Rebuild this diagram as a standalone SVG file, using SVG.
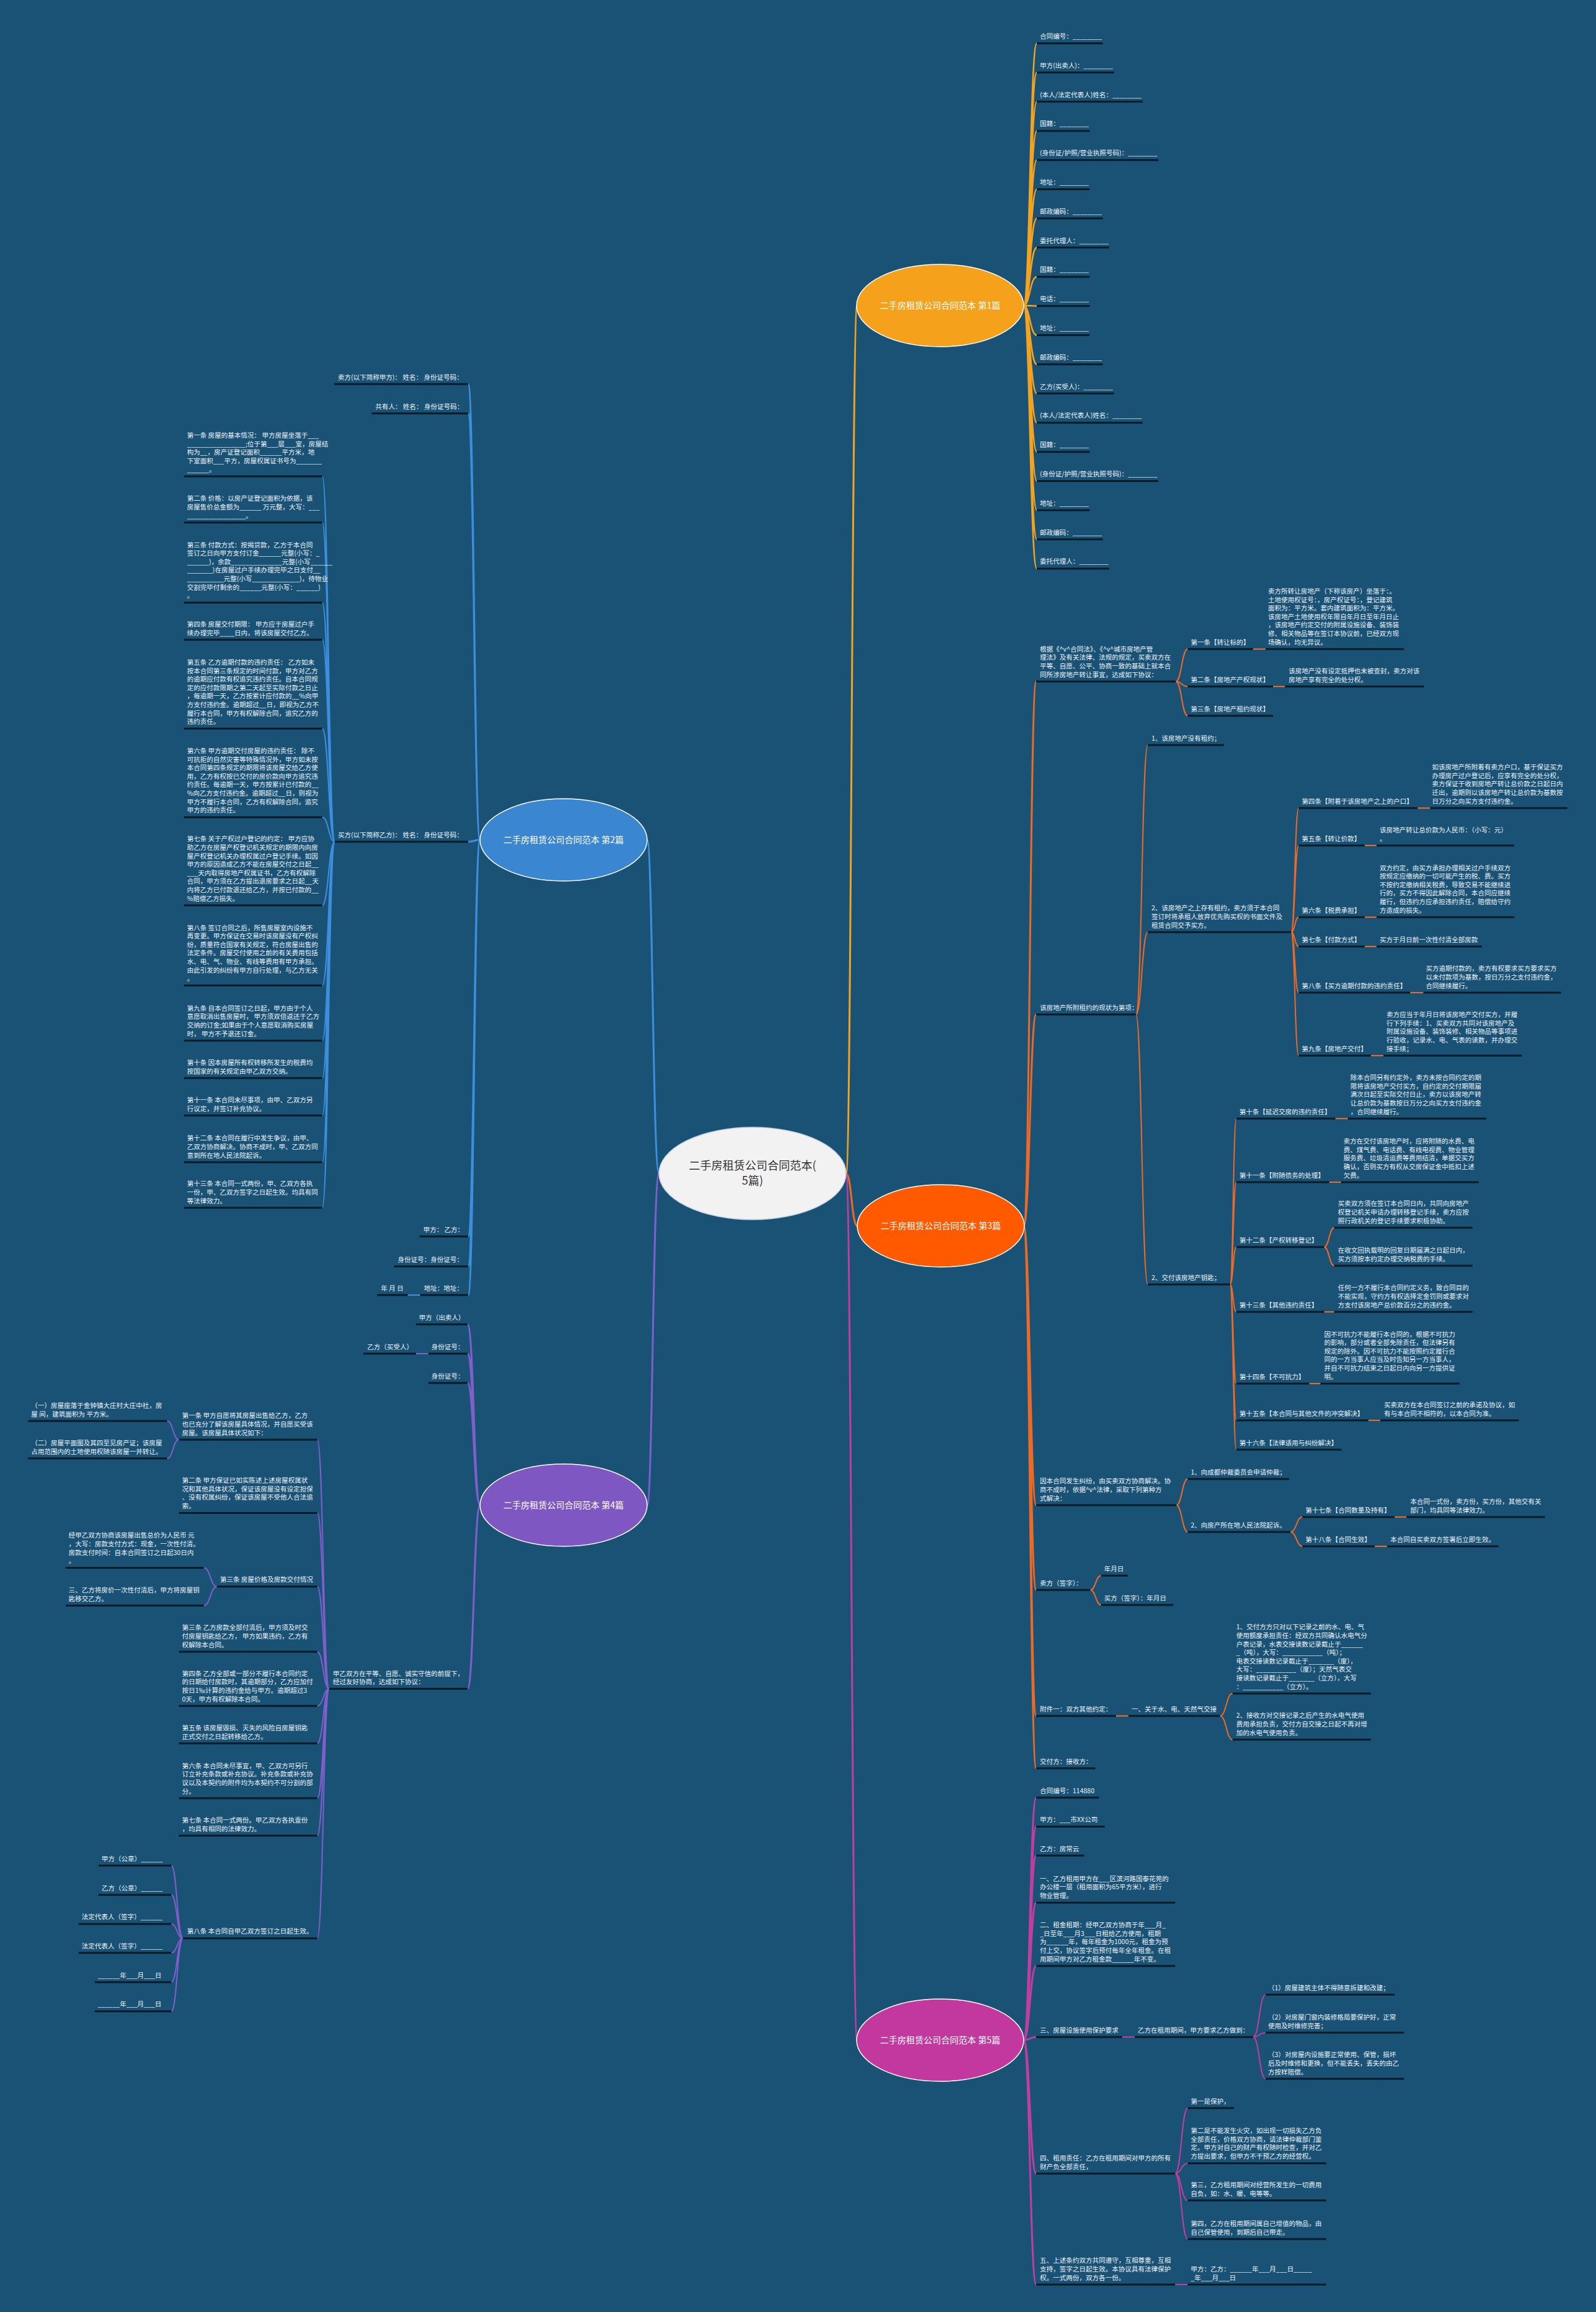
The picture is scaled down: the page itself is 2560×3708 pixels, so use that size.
<svg xmlns="http://www.w3.org/2000/svg" width="2560" height="3708" viewBox="0 0 2560 3708">
<style>
text{font-family:"Noto Sans CJK SC","Noto Sans",sans-serif;font-size:10.5px;fill:#eef2f6}
.u{stroke:#0b1a27;stroke-width:3;fill:none}
.cy{stroke:#f4a321;fill:none;stroke-width:2.5}
.co{stroke:#ec6a26;fill:none;stroke-width:2}
.cm{stroke:#c13d9f;fill:none;stroke-width:2}
.cb{stroke:#3d8fde;fill:none;stroke-width:2}
.cp{stroke:#7f5fcc;fill:none;stroke-width:2}
.w{stroke-width:3}
.big{font-size:14px;fill:#fff}
.rt{font-size:18px;fill:#333}
</style>
<rect x="0" y="0" width="2560" height="3708" fill="#1a5276"/>

<g id="connectors">
<path class="cy w" d="M1357 1882C1366 1882 1366 490 1375 490"/>
<path class="co w" d="M1357 1882C1366 1882 1366 1966 1375 1966"/>
<path class="cm w" d="M1357 1882C1366 1882 1366 3272 1375 3272"/>
<path class="cb w" d="M1057 1882C1047 1882 1047 1347 1038 1347"/>
<path class="cp w" d="M1057 1882C1047 1882 1047 2414 1038 2414"/>
<path class="cy" d="M1642 490C1652 490 1652 69.5 1663 69.5M1642 490C1652 490 1652 116.3 1663 116.3M1642 490C1652 490 1652 163.1 1663 163.1M1642 490C1652 490 1652 209.9 1663 209.9M1642 490C1652 490 1652 256.7 1663 256.7M1642 490C1652 490 1652 303.5 1663 303.5M1642 490C1652 490 1652 350.3 1663 350.3M1642 490C1652 490 1652 397.1 1663 397.1M1642 490C1652 490 1652 443.9 1663 443.9M1642 490C1652 490 1652 490.7 1663 490.7M1642 490C1652 490 1652 537.5 1663 537.5M1642 490C1652 490 1652 584.3 1663 584.3M1642 490C1652 490 1652 631.1 1663 631.1M1642 490C1652 490 1652 677.9 1663 677.9M1642 490C1652 490 1652 724.7 1663 724.7M1642 490C1652 490 1652 771.5 1663 771.5M1642 490C1652 490 1652 818.3 1663 818.3M1642 490C1652 490 1652 865.1 1663 865.1M1642 490C1652 490 1652 911.9 1663 911.9"/>
<path class="co w" d="M1642 1966C1652 1966 1652 1093 1662 1093M1642 1966C1652 1966 1652 1627 1662 1627M1642 1966C1652 1966 1652 2414 1662 2414M1642 1966C1652 1966 1652 2550 1662 2550M1642 1966C1652 1966 1652 2752 1662 2752M1642 1966C1652 1966 1652 2836 1662 2836"/>
<path class="co" d="M1886 1093C1895.5 1093 1895.5 1041 1905 1041M1886 1093C1895.5 1093 1895.5 1101 1905 1101M1886 1093C1895.5 1093 1895.5 1148 1905 1148M2010 1041H2030M2042 1101H2061"/>
<path class="co" d="M1822 1627C1831.5 1627 1831.5 1195 1841 1195M1822 1627C1831.5 1627 1831.5 1495 1841 1495M1822 1627C1831.5 1627 1831.5 2060 1841 2060"/>
<path class="co" d="M2071 1495C2077 1495 2077 1296 2083 1296M2071 1495C2077 1495 2077 1356 2083 1356M2071 1495C2077 1495 2077 1471 2083 1471M2071 1495C2077 1495 2077 1518 2083 1518M2071 1495C2077 1495 2077 1592 2083 1592M2071 1495C2077 1495 2077 1693 2083 1693M2274 1296H2294M2189 1356H2208M2189 1471H2208M2189 1518H2208M2262 1592H2283M2199 1693H2219"/>
<path class="co" d="M1973 2060C1978 2060 1978 1794 1983 1794M1973 2060C1978 2060 1978 1896 1983 1896M1973 2060C1978 2060 1978 2000 1983 2000M1973 2060C1978 2060 1978 2104 1983 2104M1973 2060C1978 2060 1978 2219 1983 2219M1973 2060C1978 2060 1978 2278 1983 2278M1973 2060C1978 2060 1978 2325 1983 2325M2142 1794H2162M2132 1896H2151M2124 2104H2140M2100 2219H2118M2195 2278H2214M2124 2000C2132 2000 2132 1969 2140 1969M2124 2000C2132 2000 2132 2030 2140 2030"/>
<path class="co" d="M1887 2414C1896 2414 1896 2372 1905 2372M1887 2414C1896 2414 1896 2457 1905 2457M2070 2457C2079.5 2457 2079.5 2433 2089 2433M2070 2457C2079.5 2457 2079.5 2480 2089 2480M2237 2433H2256M2205 2480H2225"/>
<path class="co" d="M1749 2550C1757.5 2550 1757.5 2527 1766 2527M1749 2550C1757.5 2550 1757.5 2574 1766 2574M1790 2752H1810M1957 2752C1967 2752 1967 2716 1977 2716M1957 2752C1967 2752 1967 2790 1977 2790"/>
<path class="cm w" d="M1642 3272C1652 3272 1652 2883 1662 2883M1642 3272C1652 3272 1652 2929.5 1662 2929.5M1642 3272C1652 3272 1652 2976 1662 2976M1642 3272C1652 3272 1652 3051.5 1662 3051.5M1642 3272C1652 3272 1652 3153 1662 3153M1642 3272C1652 3272 1652 3267 1662 3267M1642 3272C1652 3272 1652 3486 1662 3486M1642 3272C1652 3272 1652 3664 1662 3664"/>
<path class="cm" d="M1800 3267H1820M1885 3664H1905M2010 3267C2020 3267 2020 3199 2030 3199M2010 3267C2020 3267 2020 3260 2030 3260M2010 3267C2020 3267 2020 3334 2030 3334M1885 3486C1895 3486 1895 3381 1905 3381M1885 3486C1895 3486 1895 3469.5 1905 3469.5M1885 3486C1895 3486 1895 3529 1905 3529M1885 3486C1895 3486 1895 3591 1905 3591"/>
<path class="cb w" d="M770 1347C760.5 1347 760.5 616 751 616M770 1347C760.5 1347 760.5 663 751 663M770 1347C760.5 1347 760.5 1350 751 1350M770 1347C760.5 1347 760.5 1983 751 1983M770 1347C760.5 1347 760.5 2031 751 2031M770 1347C760.5 1347 760.5 2077 751 2077"/>
<path class="cb" d="M537 1350C527 1350 527 764 517 764M537 1350C527 1350 527 838 517 838M537 1350C527 1350 527 966.6 517 966.6M537 1350C527 1350 527 1026 517 1026M537 1350C527 1350 527 1168.6 517 1168.6M537 1350C527 1350 527 1310.7 517 1310.7M537 1350C527 1350 527 1452 517 1452M537 1350C527 1350 527 1580.6 517 1580.6M537 1350C527 1350 527 1669 517 1669M537 1350C527 1350 527 1729 517 1729M537 1350C527 1350 527 1789 517 1789M537 1350C527 1350 527 1864 517 1864M537 1350C527 1350 527 1937 517 1937M674 2077H654"/>
<path class="cp w" d="M770 2414C760 2414 760 2124 750 2124M770 2414C760 2414 760 2171 750 2171M770 2414C760 2414 760 2218 750 2218M770 2414C760 2414 760 2708.6 750 2708.6"/>
<path class="cp" d="M687 2171H667M528 2708.6C518.5 2708.6 518.5 2309 509 2309M528 2708.6C518.5 2708.6 518.5 2426.4 509 2426.4M528 2708.6C518.5 2708.6 518.5 2544.6 509 2544.6M528 2708.6C518.5 2708.6 518.5 2649 509 2649M528 2708.6C518.5 2708.6 518.5 2736 509 2736M528 2708.6C518.5 2708.6 518.5 2796 509 2796M528 2708.6C518.5 2708.6 518.5 2884 509 2884M528 2708.6C518.5 2708.6 518.5 2944 509 2944M528 2708.6C518.5 2708.6 518.5 3108.7 509 3108.7"/>
<path class="cp" d="M287 2309C277.5 2309 277.5 2279 268 2279M287 2309C277.5 2309 277.5 2339 268 2339M348 2544.6C337.5 2544.6 337.5 2514.6 327 2514.6M348 2544.6C337.5 2544.6 337.5 2575 327 2575M293.5 3108.7C284 3108.7 284 2992 275 2992M293.5 3108.7C284 3108.7 284 3039 275 3039M293.5 3108.7C284 3108.7 284 3085.7 275 3085.7M293.5 3108.7C284 3108.7 284 3132 275 3132M293.5 3108.7C284 3108.7 284 3179 275 3179M293.5 3108.7C284 3108.7 284 3225.7 275 3225.7"/>
</g>

<g id="root"><ellipse cx="1207" cy="1882" rx="150" ry="74" fill="#f2f2f2" stroke="#c9d6e2" stroke-width="1.5"/><text class="rt" x="1207" y="1876" text-anchor="middle">二手房租赁公司合同范本(</text><text class="rt" x="1207" y="1900" text-anchor="middle">5篇)</text></g>
<g id="n1"><ellipse cx="1508" cy="490" rx="134" ry="66" fill="#f5a11c" stroke="#fff" stroke-width="1.5"/><text class="big" x="1508" y="495" text-anchor="middle">二手房租赁公司合同范本 第1篇</text></g>
<g id="n2"><ellipse cx="904" cy="1347" rx="134" ry="66" fill="#3a86d0" stroke="#fff" stroke-width="1.5"/><text class="big" x="904" y="1352" text-anchor="middle">二手房租赁公司合同范本 第2篇</text></g>
<g id="n3"><ellipse cx="1509" cy="1966" rx="134" ry="66" fill="#ff5a00" stroke="#fff" stroke-width="1.5"/><text class="big" x="1509" y="1971" text-anchor="middle">二手房租赁公司合同范本 第3篇</text></g>
<g id="n4"><ellipse cx="904" cy="2414" rx="134" ry="66" fill="#7e57c2" stroke="#fff" stroke-width="1.5"/><text class="big" x="904" y="2419" text-anchor="middle">二手房租赁公司合同范本 第4篇</text></g>
<g id="n5"><ellipse cx="1508" cy="3272" rx="134" ry="66" fill="#c2389e" stroke="#fff" stroke-width="1.5"/><text class="big" x="1508" y="3277" text-anchor="middle">二手房租赁公司合同范本 第5篇</text></g>

<g id="n1-items">
<g id="n1-01"><path class="u" d="M1663 69.5H1769"/><text x="1668" y="62">合同编号：________</text></g>
<g id="n1-02"><path class="u" d="M1663 116.3H1787"/><text x="1668" y="108.8">甲方(出卖人)：________</text></g>
<g id="n1-03"><path class="u" d="M1663 163.1H1833"/><text x="1668" y="155.6">(本人/法定代表人)姓名：________</text></g>
<g id="n1-04"><path class="u" d="M1663 209.9H1748"/><text x="1668" y="202.4">国籍：________</text></g>
<g id="n1-05"><path class="u" d="M1663 256.7H1858"/><text x="1668" y="249.2">(身份证/护照/营业执照号码)：________</text></g>
<g id="n1-06"><path class="u" d="M1663 303.5H1748"/><text x="1668" y="296">地址：________</text></g>
<g id="n1-07"><path class="u" d="M1663 350.3H1769"/><text x="1668" y="342.8">邮政编码：________</text></g>
<g id="n1-08"><path class="u" d="M1663 397.1H1779"/><text x="1668" y="389.6">委托代理人：________</text></g>
<g id="n1-09"><path class="u" d="M1663 443.9H1748"/><text x="1668" y="436.4">国籍：________</text></g>
<g id="n1-10"><path class="u" d="M1663 490.7H1748"/><text x="1668" y="483.2">电话：________</text></g>
<g id="n1-11"><path class="u" d="M1663 537.5H1748"/><text x="1668" y="530">地址：________</text></g>
<g id="n1-12"><path class="u" d="M1663 584.3H1769"/><text x="1668" y="576.8">邮政编码：________</text></g>
<g id="n1-13"><path class="u" d="M1663 631.1H1787"/><text x="1668" y="623.6">乙方(买受人)：________</text></g>
<g id="n1-14"><path class="u" d="M1663 677.9H1833"/><text x="1668" y="670.4">(本人/法定代表人)姓名：________</text></g>
<g id="n1-15"><path class="u" d="M1663 724.7H1748"/><text x="1668" y="717.2">国籍：________</text></g>
<g id="n1-16"><path class="u" d="M1663 771.5H1858"/><text x="1668" y="764">(身份证/护照/营业执照号码)：________</text></g>
<g id="n1-17"><path class="u" d="M1663 818.3H1748"/><text x="1668" y="810.8">地址：________</text></g>
<g id="n1-18"><path class="u" d="M1663 865.1H1769"/><text x="1668" y="857.6">邮政编码：________</text></g>
<g id="n1-19"><path class="u" d="M1663 911.9H1779"/><text x="1668" y="904.4">委托代理人：________</text></g>
</g>

<g id="n3-items">
<g id="n3-a"><path class="u" d="M1662 1093H1886"/><text x="1668" y="1044.7">根据《^v^合同法》、《^v^城市房地产管<tspan x="1668" dy="13.6">理法》及有关法律、法规的规定，买卖双方在</tspan><tspan x="1668" dy="13.6">平等、自愿、公平、协商一致的基础上就本合</tspan><tspan x="1668" dy="13.6">同所涉房地产转让事宜，达成如下协议：</tspan></text></g>
<g id="n3-a1"><path class="u" d="M1905 1041H2010"/><text x="1910" y="1033.5">第一条【转让标的】</text></g>
<g id="n3-a1d"><path class="u" d="M2030 1041H2252"/><text x="2034" y="951.9">卖方所转让房地产（下称该房产）坐落于：。<tspan x="2034" dy="13.6">土地使用权证号：，房产权证号：，登记建筑</tspan><tspan x="2034" dy="13.6">面积为：平方米。套内建筑面积为：平方米。</tspan><tspan x="2034" dy="13.6">该房地产土地使用权年限自年月日至年月日止</tspan><tspan x="2034" dy="13.6">，该房地产约定交付的附属设施设备、装饰装</tspan><tspan x="2034" dy="13.6">修、相关物品等在签订本协议前，已经双方现</tspan><tspan x="2034" dy="13.6">场确认，均无异议。</tspan></text></g>
<g id="n3-a2"><path class="u" d="M1905 1101H2042"/><text x="1910" y="1093.5">第二条【房地产产权现状】</text></g>
<g id="n3-a2d"><path class="u" d="M2061 1101H2284"/><text x="2067" y="1079.9">该房地产没有设定抵押也未被查封，卖方对该<tspan x="2067" dy="13.6">房地产享有完全的处分权。</tspan></text></g>
<g id="n3-a3"><path class="u" d="M1905 1148H2042"/><text x="1910" y="1140.5">第三条【房地产租约现状】</text></g>
<g id="n3-b"><path class="u" d="M1662 1627H1822"/><text x="1668" y="1619.5">该房地产所附租约的现状为第项：</text></g>
<g id="n3-b1"><path class="u" d="M1841 1195H1963"/><text x="1847" y="1187.5">1、该房地产没有租约；</text></g>
<g id="n3-b2"><path class="u" d="M1841 1495H2071"/><text x="1847" y="1460.3">2、该房地产之上存有租约，卖方须于本合同<tspan x="1847" dy="13.6">签订时将承租人放弃优先购买权的书面文件及</tspan><tspan x="1847" dy="13.6">租赁合同交予买方。</tspan></text></g>
<g id="n3-b2a"><path class="u" d="M2083 1296H2274"/><text x="2088" y="1288.5">第四条【附着于该房地产之上的户口】</text></g>
<g id="n3-b2ad"><path class="u" d="M2294 1296H2514"/><text x="2297" y="1234.1">如该房地产所附着有卖方户口，基于保证买方<tspan x="2297" dy="13.6">办理房产过户登记后，应享有完全的处分权，</tspan><tspan x="2297" dy="13.6">卖方保证于收到房地产转让总价款之日起日内</tspan><tspan x="2297" dy="13.6">迁出，逾期则以该房地产转让总价款为基数按</tspan><tspan x="2297" dy="13.6">日万分之向买方支付违约金。</tspan></text></g>
<g id="n3-b2b"><path class="u" d="M2083 1356H2189"/><text x="2088" y="1348.5">第五条【转让价款】</text></g>
<g id="n3-b2bd"><path class="u" d="M2208 1356H2429"/><text x="2213" y="1334.9">该房地产转让总价款为人民币：（小写：元）<tspan x="2213" dy="13.6">。</tspan></text></g>
<g id="n3-b2c"><path class="u" d="M2083 1471H2189"/><text x="2088" y="1463.5">第六条【税费承担】</text></g>
<g id="n3-b2cd"><path class="u" d="M2208 1471H2429"/><text x="2213" y="1395.5">双方约定，由买方承担办理相关过户手续双方<tspan x="2213" dy="13.6">按规定应缴纳的一切可能产生的税、费。买方</tspan><tspan x="2213" dy="13.6">不按约定缴纳相关税费，导致交易不能继续进</tspan><tspan x="2213" dy="13.6">行的，买方不得因此解除合同，本合同应继续</tspan><tspan x="2213" dy="13.6">履行，但违约方应承担违约责任，赔偿给守约</tspan><tspan x="2213" dy="13.6">方造成的损失。</tspan></text></g>
<g id="n3-b2d"><path class="u" d="M2083 1518H2189"/><text x="2088" y="1510.5">第七条【付款方式】</text></g>
<g id="n3-b2dd"><path class="u" d="M2208 1518H2377"/><text x="2213" y="1510.5">买方于月日前一次性付清全部房款</text></g>
<g id="n3-b2e"><path class="u" d="M2083 1592H2262"/><text x="2088" y="1584.5">第八条【买方逾期付款的违约责任】</text></g>
<g id="n3-b2ed"><path class="u" d="M2283 1592H2504"/><text x="2287" y="1557.3">买方逾期付款的，卖方有权要求买方要求买方<tspan x="2287" dy="13.6">以未付款项为基数，按日万分之支付违约金，</tspan><tspan x="2287" dy="13.6">合同继续履行。</tspan></text></g>
<g id="n3-b2f"><path class="u" d="M2083 1693H2199"/><text x="2088" y="1685.5">第九条【房地产交付】</text></g>
<g id="n3-b2fd"><path class="u" d="M2219 1693H2441"/><text x="2224" y="1631.1">卖方应当于年月日将该房地产交付买方，并履<tspan x="2224" dy="13.6">行下列手续：1、买卖双方共同对该房地产及</tspan><tspan x="2224" dy="13.6">附属设施设备、装饰装修、相关物品等事项进</tspan><tspan x="2224" dy="13.6">行验收，记录水、电、气表的读数，并办理交</tspan><tspan x="2224" dy="13.6">接手续；</tspan></text></g>
<g id="n3-b3"><path class="u" d="M1841 2060H1973"/><text x="1847" y="2052.5">2、交付该房地产钥匙；</text></g>
<g id="n3-b3a"><path class="u" d="M1983 1794H2142"/><text x="1988" y="1786.5">第十条【延迟交房的违约责任】</text></g>
<g id="n3-b3ad"><path class="u" d="M2162 1794H2384"/><text x="2166" y="1732.1">除本合同另有约定外，卖方未按合同约定的期<tspan x="2166" dy="13.6">限将该房地产交付买方，自约定的交付期限届</tspan><tspan x="2166" dy="13.6">满次日起至实际交付日止，卖方以该房地产转</tspan><tspan x="2166" dy="13.6">让总价款为基数按日万分之向买方支付违约金</tspan><tspan x="2166" dy="13.6">，合同继续履行。</tspan></text></g>
<g id="n3-b3b"><path class="u" d="M1983 1896H2132"/><text x="1988" y="1888.5">第十一条【附随债务的处理】</text></g>
<g id="n3-b3bd"><path class="u" d="M2151 1896H2372"/><text x="2155" y="1834.1">卖方在交付该房地产时，应将附随的水费、电<tspan x="2155" dy="13.6">费、煤气费、电话费、有线电视费、物业管理</tspan><tspan x="2155" dy="13.6">服务费、垃圾清运费等费用结清，单据交买方</tspan><tspan x="2155" dy="13.6">确认，否则买方有权从交房保证金中抵扣上述</tspan><tspan x="2155" dy="13.6">欠费。</tspan></text></g>
<g id="n3-b3c"><path class="u" d="M1983 2000H2124"/><text x="1988" y="1992.5">第十二条【产权转移登记】</text></g>
<g id="n3-b3cd1"><path class="u" d="M2140 1969H2362"/><text x="2146" y="1934.3">买卖双方须在签订本合同日内，共同向房地产<tspan x="2146" dy="13.6">权登记机关申请办理转移登记手续，卖方应按</tspan><tspan x="2146" dy="13.6">照行政机关的登记手续要求积极协助。</tspan></text></g>
<g id="n3-b3cd2"><path class="u" d="M2140 2030H2362"/><text x="2146" y="2008.9">在收文回执载明的回复日期届满之日起日内，<tspan x="2146" dy="13.6">买方须按本约定办理交纳税费的手续。</tspan></text></g>
<g id="n3-b3d"><path class="u" d="M1983 2104H2124"/><text x="1988" y="2096.5">第十三条【其他违约责任】</text></g>
<g id="n3-b3dd"><path class="u" d="M2140 2104H2362"/><text x="2146" y="2069.3">任何一方不履行本合同约定义务，致合同目的<tspan x="2146" dy="13.6">不能实现，守约方有权选择定金罚则或要求对</tspan><tspan x="2146" dy="13.6">方支付该房地产总价款百分之的违约金。</tspan></text></g>
<g id="n3-b3e"><path class="u" d="M1983 2219H2100"/><text x="1988" y="2211.5">第十四条【不可抗力】</text></g>
<g id="n3-b3ed"><path class="u" d="M2118 2219H2341"/><text x="2124" y="2143.5">因不可抗力不能履行本合同的，根据不可抗力<tspan x="2124" dy="13.6">的影响，部分或者全部免除责任，但法律另有</tspan><tspan x="2124" dy="13.6">规定的除外。因不可抗力不能按照约定履行合</tspan><tspan x="2124" dy="13.6">同的一方当事人应当及时告知另一方当事人，</tspan><tspan x="2124" dy="13.6">并自不可抗力结束之日起日内向另一方提供证</tspan><tspan x="2124" dy="13.6">明。</tspan></text></g>
<g id="n3-b3f"><path class="u" d="M1983 2278H2195"/><text x="1988" y="2270.5">第十五条【本合同与其他文件的冲突解决】</text></g>
<g id="n3-b3fd"><path class="u" d="M2214 2278H2436"/><text x="2220" y="2256.9">买卖双方在本合同签订之前的承诺及协议，如<tspan x="2220" dy="13.6">有与本合同不相符的，以本合同为准。</tspan></text></g>
<g id="n3-b3g"><path class="u" d="M1983 2325H2152"/><text x="1988" y="2317.5">第十六条【法律适用与纠纷解决】</text></g>
<g id="n3-c"><path class="u" d="M1662 2414H1887"/><text x="1668" y="2379.3">因本合同发生纠纷，由买卖双方协商解决。协<tspan x="1668" dy="13.6">商不成时，依据^v^法律，采取下列第种方</tspan><tspan x="1668" dy="13.6">式解决：</tspan></text></g>
<g id="n3-c1"><path class="u" d="M1905 2372H2068"/><text x="1910" y="2364.5">1、向成都仲裁委员会申请仲裁；</text></g>
<g id="n3-c2"><path class="u" d="M1905 2457H2070"/><text x="1910" y="2449.5">2、向房产所在地人民法院起诉。</text></g>
<g id="n3-c2a"><path class="u" d="M2089 2433H2237"/><text x="2094" y="2425.5">第十七条【合同数量及持有】</text></g>
<g id="n3-c2ad"><path class="u" d="M2256 2433H2478"/><text x="2262" y="2411.9">本合同一式份，卖方份，买方份，其他交有关<tspan x="2262" dy="13.6">部门，均具同等法律效力。</tspan></text></g>
<g id="n3-c2b"><path class="u" d="M2089 2480H2205"/><text x="2094" y="2472.5">第十八条【合同生效】</text></g>
<g id="n3-c2bd"><path class="u" d="M2225 2480H2404"/><text x="2230" y="2472.5">本合同自买卖双方签署后立即生效。</text></g>
<g id="n3-d"><path class="u" d="M1662 2550H1749"/><text x="1668" y="2542.5">卖方（签字）：</text></g>
<g id="n3-d1"><path class="u" d="M1766 2527H1809"/><text x="1771" y="2519.5">年月日</text></g>
<g id="n3-d2"><path class="u" d="M1766 2574H1882"/><text x="1771" y="2566.5">买方（签字）：年月日</text></g>
<g id="n3-e"><path class="u" d="M1662 2752H1790"/><text x="1668" y="2744.5">附件一：双方其他约定：</text></g>
<g id="n3-e0"><path class="u" d="M1810 2752H1957"/><text x="1815" y="2744.5">一、关于水、电、天然气交接</text></g>
<g id="n3-e1"><path class="u" d="M1977 2716H2199"/><text x="1983" y="2613.3">1、交付方方只对以下记录之前的水、电、气<tspan x="1983" dy="13.6">使用额度承担责任：经双方共同确认水电气分</tspan><tspan x="1983" dy="13.6">户表记录，水表交接读数记录截止于______</tspan><tspan x="1983" dy="13.6">_（吨），大写：___________（吨）；</tspan><tspan x="1983" dy="13.6">电表交接读数记录截止于_______（度），</tspan><tspan x="1983" dy="13.6">大写：___________（度）；天然气表交</tspan><tspan x="1983" dy="13.6">接读数记录截止于_______（立方），大写</tspan><tspan x="1983" dy="13.6">：___________（立方）。</tspan></text></g>
<g id="n3-e2"><path class="u" d="M1977 2790H2199"/><text x="1983" y="2755.3">2、接收方对交接记录之后产生的水电气使用<tspan x="1983" dy="13.6">费用承担负责，交付方自交接之日起不再对增</tspan><tspan x="1983" dy="13.6">加的水电气使用负责。</tspan></text></g>
<g id="n3-f"><path class="u" d="M1662 2836H1757"/><text x="1668" y="2828.5">交付方：接收方：</text></g>
</g>

<g id="n5-items">
<g id="n5-1"><path class="u" d="M1662 2883H1763"/><text x="1668" y="2875.5">合同编号：114880</text></g>
<g id="n5-2"><path class="u" d="M1662 2929.5H1772"/><text x="1668" y="2922">甲方：___市XX公司</text></g>
<g id="n5-3"><path class="u" d="M1662 2976H1739"/><text x="1668" y="2968.5">乙方：房常云</text></g>
<g id="n5-4"><path class="u" d="M1662 3051.5H1885"/><text x="1668" y="3016.8">一、乙方租用甲方在___区滨河路国泰花苑的<tspan x="1668" dy="13.6">办公楼一层（租用面积为65平方米），进行</tspan><tspan x="1668" dy="13.6">物业管理。</tspan></text></g>
<g id="n5-5"><path class="u" d="M1662 3153H1885"/><text x="1668" y="3091.1">二、租金租期：经甲乙双方协商于年___月_<tspan x="1668" dy="13.6">_日至年___月3___日租给乙方使用，租期</tspan><tspan x="1668" dy="13.6">为______年，每年租金为1000元，租金为预</tspan><tspan x="1668" dy="13.6">付上交，协议签字后预付每年全年租金。在租</tspan><tspan x="1668" dy="13.6">用期间甲方对乙方租金款______年不变。</tspan></text></g>
<g id="n5-6"><path class="u" d="M1662 3267H1800"/><text x="1668" y="3259.5">三、房屋设施使用保护要求</text></g>
<g id="n5-6c"><path class="u" d="M1820 3267H2010"/><text x="1825" y="3259.5">乙方在租用期间，甲方要求乙方做到：</text></g>
<g id="n5-6c1"><path class="u" d="M2030 3199H2237"/><text x="2034" y="3191.5">（1）房屋建筑主体不得随意拆建和改建；</text></g>
<g id="n5-6c2"><path class="u" d="M2030 3260H2252"/><text x="2034" y="3238.9">（2）对房屋门窗内装修格局要保护好，正常<tspan x="2034" dy="13.6">使用及时维修完善；</tspan></text></g>
<g id="n5-6c3"><path class="u" d="M2030 3334H2252"/><text x="2034" y="3299.3">（3）对房屋内设施要正常使用、保管，损坏<tspan x="2034" dy="13.6">后及时维修和更换，但不能丢失，丢失的由乙</tspan><tspan x="2034" dy="13.6">方按样赔偿。</tspan></text></g>
<g id="n5-7"><path class="u" d="M1662 3486H1885"/><text x="1668" y="3464.9">四、租用责任：乙方在租用期间对甲方的所有<tspan x="1668" dy="13.6">财产负全部责任，</tspan></text></g>
<g id="n5-7a"><path class="u" d="M1905 3381H1979"/><text x="1910" y="3373.5">第一是保护，</text></g>
<g id="n5-7b"><path class="u" d="M1905 3469.5H2127"/><text x="1910" y="3421.2">第二是不能发生火灾，如出现一切损失乙方负<tspan x="1910" dy="13.6">全部责任，价格双方协商，请法律仲裁部门鉴</tspan><tspan x="1910" dy="13.6">定。甲方对自己的财产有权随时检查，并对乙</tspan><tspan x="1910" dy="13.6">方提出要求，但甲方不干预乙方的经营权。</tspan></text></g>
<g id="n5-7c"><path class="u" d="M1905 3529H2127"/><text x="1910" y="3507.9">第三，乙方租用期间对经营所发生的一切费用<tspan x="1910" dy="13.6">自负，如：水、暖、电等等。</tspan></text></g>
<g id="n5-7d"><path class="u" d="M1905 3591H2127"/><text x="1910" y="3569.9">第四，乙方在租用期间属自己增值的物品，由<tspan x="1910" dy="13.6">自己保管使用，到期后自己带走。</tspan></text></g>
<g id="n5-8"><path class="u" d="M1662 3664H1885"/><text x="1668" y="3629.3">五、上述条约双方共同遵守，互相尊重，互相<tspan x="1668" dy="13.6">支持，签字之日起生效。本协议具有法律保护</tspan><tspan x="1668" dy="13.6">权。一式两份，双方各一份。</tspan></text></g>
<g id="n5-8c"><path class="u" d="M1905 3664H2127"/><text x="1910" y="3642.9">甲方：乙方：______年___月___日_____<tspan x="1910" dy="13.6">_年___月___日</tspan></text></g>
</g>

<g id="n2-items">
<g id="n2-1"><path class="u" d="M536 616H751"/><text x="542" y="608.5">卖方(以下简称甲方)： 姓名： 身份证号码：</text></g>
<g id="n2-2"><path class="u" d="M596 663H751"/><text x="602" y="655.5">共有人： 姓名： 身份证号码：</text></g>
<g id="n2-3"><path class="u" d="M537 1350H751"/><text x="542" y="1342.5">买方(以下简称乙方)： 姓名： 身份证号码：</text></g>
<g id="n2-3-01"><path class="u" d="M295 764H517"/><text x="300" y="702.1">第一条 房屋的基本情况： 甲方房屋坐落于___<tspan x="300" dy="13.6">________________;位于第___层___室，房屋结</tspan><tspan x="300" dy="13.6">构为__，房产证登记面积______平方米，地</tspan><tspan x="300" dy="13.6">下室面积___平方，房屋权属证书号为_______</tspan><tspan x="300" dy="13.6">______。</tspan></text></g>
<g id="n2-3-02"><path class="u" d="M295 838H517"/><text x="300" y="803.3">第二条 价格：以房产证登记面积为依据，该<tspan x="300" dy="13.6">房屋售价总金额为______ 万元整，大写：___</tspan><tspan x="300" dy="13.6">________________。</tspan></text></g>
<g id="n2-3-03"><path class="u" d="M295 966.6H517"/><text x="300" y="877.5">第三条 付款方式：按揭贷款，乙方于本合同<tspan x="300" dy="13.6">签订之日向甲方支付订金______元整(小写：_</tspan><tspan x="300" dy="13.6">______)，余款______________元整(小写______</tspan><tspan x="300" dy="13.6">_______)在房屋过户手续办理完毕之日支付__</tspan><tspan x="300" dy="13.6">__________元整(小写_____________)，待物业</tspan><tspan x="300" dy="13.6">交割完毕付剩余的______元整(小写：______)</tspan><tspan x="300" dy="13.6">。</tspan></text></g>
<g id="n2-3-04"><path class="u" d="M295 1026H517"/><text x="300" y="1004.9">第四条 房屋交付期限： 甲方应于房屋过户手<tspan x="300" dy="13.6">续办理完毕____日内，将该房屋交付乙方。</tspan></text></g>
<g id="n2-3-05"><path class="u" d="M295 1168.6H517"/><text x="300" y="1065.9">第五条 乙方逾期付款的违约责任： 乙方如未<tspan x="300" dy="13.6">按本合同第三条规定的时间付款，甲方对乙方</tspan><tspan x="300" dy="13.6">的逾期应付款有权追究违约责任。自本合同规</tspan><tspan x="300" dy="13.6">定的应付款限期之第二天起至实际付款之日止</tspan><tspan x="300" dy="13.6">，每逾期一天，乙方按累计应付款的__%向甲</tspan><tspan x="300" dy="13.6">方支付违约金。逾期超过__日，即视为乙方不</tspan><tspan x="300" dy="13.6">履行本合同，甲方有权解除合同，追究乙方的</tspan><tspan x="300" dy="13.6">违约责任。</tspan></text></g>
<g id="n2-3-06"><path class="u" d="M295 1310.7H517"/><text x="300" y="1208">第六条 甲方逾期交付房屋的违约责任： 除不<tspan x="300" dy="13.6">可抗拒的自然灾害等特殊情况外，甲方如未按</tspan><tspan x="300" dy="13.6">本合同第四条规定的期限将该房屋交给乙方使</tspan><tspan x="300" dy="13.6">用，乙方有权按已交付的房价款向甲方追究违</tspan><tspan x="300" dy="13.6">约责任。每逾期一天，甲方按累计已付款的__</tspan><tspan x="300" dy="13.6">%向乙方支付违约金。逾期超过__日，则视为</tspan><tspan x="300" dy="13.6">甲方不履行本合同，乙方有权解除合同，追究</tspan><tspan x="300" dy="13.6">甲方的违约责任。</tspan></text></g>
<g id="n2-3-07"><path class="u" d="M295 1452H517"/><text x="300" y="1349.3">第七条 关于产权过户登记的约定： 甲方应协<tspan x="300" dy="13.6">助乙方在房屋产权登记机关规定的期限内向房</tspan><tspan x="300" dy="13.6">屋产权登记机关办理权属过户登记手续。如因</tspan><tspan x="300" dy="13.6">甲方的原因造成乙方不能在房屋交付之日起__</tspan><tspan x="300" dy="13.6">___天内取得房地产权属证书，乙方有权解除</tspan><tspan x="300" dy="13.6">合同，甲方须在乙方提出退房要求之日起__天</tspan><tspan x="300" dy="13.6">内将乙方已付款退还给乙方，并按已付款的__</tspan><tspan x="300" dy="13.6">%赔偿乙方损失。</tspan></text></g>
<g id="n2-3-08"><path class="u" d="M295 1580.6H517"/><text x="300" y="1491.5">第八条 签订合同之后，所售房屋室内设施不<tspan x="300" dy="13.6">再变更。甲方保证在交易时该房屋没有产权纠</tspan><tspan x="300" dy="13.6">纷，质量符合国家有关规定，符合房屋出售的</tspan><tspan x="300" dy="13.6">法定条件。房屋交付使用之前的有关费用包括</tspan><tspan x="300" dy="13.6">水、电、气、物业、有线等费用有甲方承担。</tspan><tspan x="300" dy="13.6">由此引发的纠纷有甲方自行处理，与乙方无关</tspan><tspan x="300" dy="13.6">。</tspan></text></g>
<g id="n2-3-09"><path class="u" d="M295 1669H517"/><text x="300" y="1620.7">第九条 自本合同签订之日起，甲方由于个人<tspan x="300" dy="13.6">意愿取消出售房屋时， 甲方须双倍返还于乙方</tspan><tspan x="300" dy="13.6">交纳的订金;如果由于个人意愿取消购买房屋</tspan><tspan x="300" dy="13.6">时， 甲方不予退还订金。</tspan></text></g>
<g id="n2-3-10"><path class="u" d="M295 1729H517"/><text x="300" y="1707.9">第十条 因本房屋所有权转移所发生的税费均<tspan x="300" dy="13.6">按国家的有关规定由甲乙双方交纳。</tspan></text></g>
<g id="n2-3-11"><path class="u" d="M295 1789H517"/><text x="300" y="1767.9">第十一条 本合同未尽事项，由甲、乙双方另<tspan x="300" dy="13.6">行议定，并签订补充协议。</tspan></text></g>
<g id="n2-3-12"><path class="u" d="M295 1864H517"/><text x="300" y="1829.3">第十二条 本合同在履行中发生争议，由甲、<tspan x="300" dy="13.6">乙双方协商解决。协商不成时，甲、乙双方同</tspan><tspan x="300" dy="13.6">意到所在地人民法院起诉。</tspan></text></g>
<g id="n2-3-13"><path class="u" d="M295 1937H517"/><text x="300" y="1902.3">第十三条 本合同一式两份，甲、乙双方各执<tspan x="300" dy="13.6">一份，甲、乙双方签字之日起生效。均具有同</tspan><tspan x="300" dy="13.6">等法律效力。</tspan></text></g>
<g id="n2-4"><path class="u" d="M673 1983H751"/><text x="679" y="1975.5">甲方： 乙方：</text></g>
<g id="n2-5"><path class="u" d="M632 2031H751"/><text x="638" y="2023.5">身份证号：身份证号：</text></g>
<g id="n2-6"><path class="u" d="M674 2077H751"/><text x="680" y="2069.5">地址：地址：</text></g>
<g id="n2-6c"><path class="u" d="M605 2077H654"/><text x="611" y="2069.5">年 月 日</text></g>
</g>

<g id="n4-items">
<g id="n4-1"><path class="u" d="M667 2124H750"/><text x="672" y="2116.5">甲方（出卖人）</text></g>
<g id="n4-2"><path class="u" d="M687 2171H750"/><text x="692" y="2163.5">身份证号：</text></g>
<g id="n4-2c"><path class="u" d="M583 2171H667"/><text x="589" y="2163.5">乙方（买受人）</text></g>
<g id="n4-3"><path class="u" d="M687 2218H750"/><text x="692" y="2210.5">身份证号：</text></g>
<g id="n4-4"><path class="u" d="M528 2708.6H750"/><text x="534" y="2687.5">甲乙双方在平等、自愿、诚实守信的前提下，<tspan x="534" dy="13.6">经过友好协商，达成如下协议：</tspan></text></g>
<g id="n4-4-1"><path class="u" d="M287 2309H509"/><text x="292" y="2274.3">第一条 甲方自愿将其房屋出售给乙方，乙方<tspan x="292" dy="13.6">也已充分了解该房屋具体情况，并自愿买受该</tspan><tspan x="292" dy="13.6">房屋。该房屋具体状况如下：</tspan></text></g>
<g id="n4-4-1a"><path class="u" d="M45 2279H268"/><text x="50" y="2257.9">（一）房屋座落于金钟镇大庄村大庄中社，房<tspan x="50" dy="13.6">屋 间，建筑面积为 平方米。</tspan></text></g>
<g id="n4-4-1b"><path class="u" d="M45 2339H268"/><text x="50" y="2317.9">（二）房屋平面图及其四至见房产证；该房屋<tspan x="50" dy="13.6">占用范围内的土地使用权随该房屋一并转让。</tspan></text></g>
<g id="n4-4-2"><path class="u" d="M287 2426.4H509"/><text x="292" y="2378.1">第二条 甲方保证已如实陈述上述房屋权属状<tspan x="292" dy="13.6">况和其他具体状况，保证该房屋没有设定担保</tspan><tspan x="292" dy="13.6">、没有权属纠纷，保证该房屋不受他人合法追</tspan><tspan x="292" dy="13.6">索。</tspan></text></g>
<g id="n4-4-3"><path class="u" d="M348 2544.6H509"/><text x="353" y="2537.1">第三条 房屋价格及房款交付情况</text></g>
<g id="n4-4-3a"><path class="u" d="M105.5 2514.6H327"/><text x="110" y="2466.3">经甲乙双方协商该房屋出售总价为人民币 元<tspan x="110" dy="13.6">，大写：房款支付方式：现金，一次性付清。</tspan><tspan x="110" dy="13.6">房款支付时间：自本合同签订之日起30日内</tspan><tspan x="110" dy="13.6">。</tspan></text></g>
<g id="n4-4-3b"><path class="u" d="M105.5 2575H327"/><text x="110" y="2553.9">三、乙方将房价一次性付清后，甲方将房屋钥<tspan x="110" dy="13.6">匙移交乙方。</tspan></text></g>
<g id="n4-4-4"><path class="u" d="M287 2649H509"/><text x="292" y="2614.3">第三条 乙方房款全部付清后，甲方须及时交<tspan x="292" dy="13.6">付房屋钥匙给乙方， 甲方如果违约，乙方有</tspan><tspan x="292" dy="13.6">权解除本合同。</tspan></text></g>
<g id="n4-4-5"><path class="u" d="M287 2736H509"/><text x="292" y="2687.7">第四条 乙方全部或一部分不履行本合同约定<tspan x="292" dy="13.6">的日期给付房款时，其逾期部分，乙方应加付</tspan><tspan x="292" dy="13.6">按日1‰计算的违约金给与甲方。逾期超过3</tspan><tspan x="292" dy="13.6">0天，甲方有权解除本合同。</tspan></text></g>
<g id="n4-4-6"><path class="u" d="M287 2796H509"/><text x="292" y="2774.9">第五条 该房屋毁损、灭失的风险自房屋钥匙<tspan x="292" dy="13.6">正式交付之日起转移给乙方。</tspan></text></g>
<g id="n4-4-7"><path class="u" d="M287 2884H509"/><text x="292" y="2835.7">第六条 本合同未尽事宜，甲、乙双方可另行<tspan x="292" dy="13.6">订立补充条款或补充协议。补充条款或补充协</tspan><tspan x="292" dy="13.6">议以及本契约的附件均为本契约不可分割的部</tspan><tspan x="292" dy="13.6">分。</tspan></text></g>
<g id="n4-4-8"><path class="u" d="M287 2944H509"/><text x="292" y="2922.9">第七条 本合同一式两份。甲乙双方各执壹份<tspan x="292" dy="13.6">，均具有相同的法律效力。</tspan></text></g>
<g id="n4-4-9"><path class="u" d="M293.5 3108.7H509"/><text x="300" y="3101.2">第八条 本合同自甲乙双方签订之日起生效。</text></g>
<g id="n4-4-9a"><path class="u" d="M158 2992H275"/><text x="163" y="2984.5">甲方（公章）______</text></g>
<g id="n4-4-9b"><path class="u" d="M158 3039H275"/><text x="163" y="3031.5">乙方（公章）______</text></g>
<g id="n4-4-9c"><path class="u" d="M126 3085.7H275"/><text x="131" y="3078.2">法定代表人（签字）______</text></g>
<g id="n4-4-9d"><path class="u" d="M126 3132H275"/><text x="131" y="3124.5">法定代表人（签字）______</text></g>
<g id="n4-4-9e"><path class="u" d="M152 3179H275"/><text x="157" y="3171.5">______年___月___日</text></g>
<g id="n4-4-9f"><path class="u" d="M152 3225.7H275"/><text x="157" y="3218.2">______年___月___日</text></g>
</g>
</svg>
